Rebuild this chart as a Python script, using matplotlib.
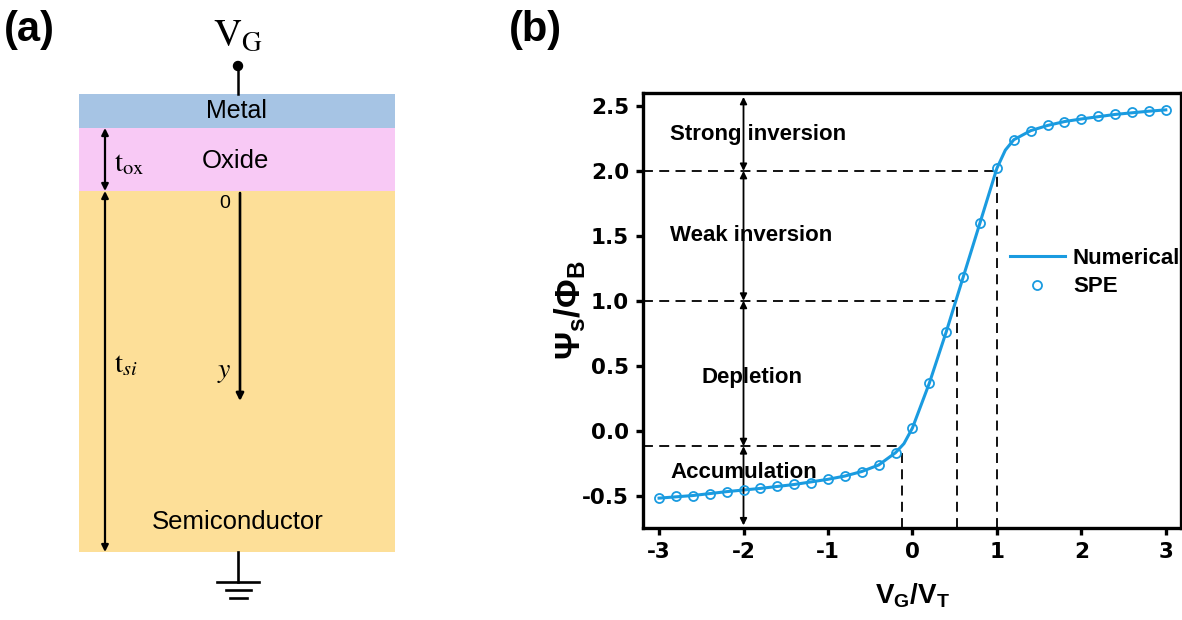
import numpy as np
import matplotlib
matplotlib.use("Agg")
import matplotlib.pyplot as plt
from matplotlib.patches import Rectangle, Circle
from matplotlib.lines import Line2D

plt.rcParams['font.family'] = ['Liberation Sans', 'DejaVu Sans']
plt.rcParams['mathtext.fontset'] = 'custom'
plt.rcParams['mathtext.rm'] = 'Liberation Sans:bold'
plt.rcParams['mathtext.bf'] = 'Liberation Sans:bold'
plt.rcParams['mathtext.it'] = 'Liberation Sans:bold:italic'

# surface potential vs gate voltage
vg_spe = [-3.0, -2.8, -2.6, -2.4, -2.2, -2.0, -1.8, -1.6, -1.4, -1.2, -1.0,
          -0.8, -0.6, -0.4, -0.2, 0.0, 0.2, 0.4, 0.6, 0.8, 1.0,
          1.2, 1.4, 1.6, 1.8, 2.0, 2.2, 2.4, 2.6, 2.8, 3.0]
psi_spe = [-0.52, -0.505, -0.50, -0.485, -0.47, -0.46, -0.445, -0.43, -0.415, -0.40, -0.375,
           -0.35, -0.315, -0.265, -0.17, 0.02, 0.365, 0.76, 1.18, 1.60, 2.02,
           2.24, 2.31, 2.35, 2.38, 2.40, 2.42, 2.435, 2.45, 2.46, 2.47]

vg_num = [-3.0, -2.6, -2.2, -1.8, -1.4, -1.0, -0.8, -0.6, -0.4, -0.2, -0.1, 0.0, 0.2, 0.4,
          0.6, 0.8, 1.0, 1.1, 1.2, 1.4, 1.6, 1.8, 2.0, 2.4, 2.8, 3.0]
psi_num = [-0.52, -0.50, -0.47, -0.445, -0.415, -0.375, -0.35, -0.315, -0.265, -0.17, -0.10, 0.02, 0.365, 0.76,
           1.18, 1.60, 2.02, 2.16, 2.24, 2.31, 2.35, 2.38, 2.40, 2.435, 2.46, 2.47]

# region boundaries (dashed guides) and the double arrows at x = -2
corner_x = [-0.12, 0.53, 1.0]
corner_y = [-0.12, 1.0, 2.0]
arrow_x = -2.0
arrow_levels = [2.57, 2.0, 1.0, -0.12, -0.73]
regions = ['Strong inversion', 'Weak inversion', 'Depletion', 'Accumulation']
region_pos = [(-2.87, 2.28), (-2.87, 1.50), (-1.9, 0.41), (-2.87, -0.32)]
region_ha = ['left', 'left', 'center', 'left']

blue = '#1a9be0'

fig = plt.figure(figsize=(11.82, 6.2), dpi=100)

# ---------------- (a) MOS structure ----------------
ax_a = fig.add_axes([0, 0, 0.5, 1])
ax_a.set_xlim(0, 591)
ax_a.set_ylim(620, 0)
ax_a.axis('off')

left, right = 79, 395
layers = [('Metal', 94, 128, '#a6c4e4'),
          ('Oxide', 128, 191, '#f8c9f5'),
          ('Semiconductor', 191, 552, '#fddf98')]
for name, top, bot, col in layers:
    ax_a.add_patch(Rectangle((left, top), right - left, bot - top, color=col, lw=0))

ax_a.text(236, 111, 'Metal', ha='center', va='center', fontsize=18)
ax_a.text(235, 161, 'Oxide', ha='center', va='center', fontsize=18.5)
ax_a.text(238, 522, 'Semiconductor', ha='center', va='center', fontsize=18.5)

# gate terminal
ax_a.plot([238, 238], [66, 94], color='k', lw=1.8)
ax_a.add_patch(Circle((238, 66), 4.5, color='k'))
ax_a.text(238, 36, r'$\mathrm{V_G}$', ha='center', va='center', fontsize=28,
          math_fontfamily='stix')

# thickness arrows
for y0, y1 in [(128, 191), (191, 552)]:
    ax_a.annotate('', xy=(105, y0), xytext=(105, y1),
                  arrowprops=dict(arrowstyle='<|-|>', color='k', lw=1.6,
                                  mutation_scale=10, shrinkA=0, shrinkB=0))
ax_a.text(114, 163, r'$\mathrm{t_{ox}}$', ha='left', va='center', fontsize=21,
          math_fontfamily='stix')
ax_a.text(114, 364, r'$\mathrm{t}_{si}$', ha='left', va='center', fontsize=21,
          math_fontfamily='stix')

# depth coordinate
ax_a.annotate('', xy=(240, 401), xytext=(240, 193),
              arrowprops=dict(arrowstyle='-|>', color='k', lw=1.9,
                              mutation_scale=11, shrinkA=0, shrinkB=0))
ax_a.text(225, 203, '0', ha='center', va='center', fontsize=14)
ax_a.text(224, 372, r'$y$', ha='center', va='center', fontsize=20,
          math_fontfamily='stix')

# ground
ax_a.plot([238, 238], [552, 582], color='k', lw=1.9)
for y, half in [(582, 21), (590, 12.5), (598, 8.5)]:
    ax_a.plot([238 - half, 238 + half], [y, y], color='k', lw=1.9)

fig.text(4 / 1182, 1 - 30 / 620, '(a)', fontsize=30, fontweight='bold', va='center')

# ---------------- (b) surface potential ----------------
ax = fig.add_axes([643 / 1182, 1 - 528 / 620, 538 / 1182, 435 / 620])
ax.plot(vg_num, psi_num, color=blue, lw=2.2, zorder=3)
ax.plot(vg_spe, psi_spe, 'o', mfc='none', mec=blue, ms=6.5, mew=1.3, zorder=4)

ax.set_xlim(-3.19, 3.18)
ax.set_ylim(-0.75, 2.6)

for cx, cy in zip(corner_x, corner_y):
    ax.plot([-3.19, cx], [cy, cy], color='k', lw=1.3, dashes=(5.5, 3.5), zorder=2)
    ax.plot([cx, cx], [-0.75, cy], color='k', lw=1.3, dashes=(5.5, 3.5), zorder=2)

for y0, y1 in zip(arrow_levels[:-1], arrow_levels[1:]):
    ax.annotate('', xy=(arrow_x, y0), xytext=(arrow_x, y1),
                arrowprops=dict(arrowstyle='<|-|>', color='k', lw=1.3,
                                mutation_scale=10, shrinkA=0, shrinkB=0))

for label, (tx, ty), ha in zip(regions, region_pos, region_ha):
    ax.text(tx, ty, label, ha=ha, va='center', fontsize=16, fontweight='bold', zorder=5)

ax.set_xticks([-3, -2, -1, 0, 1, 2, 3])
ax.set_yticks([-0.5, 0.0, 0.5, 1.0, 1.5, 2.0, 2.5])
ax.set_xticklabels(['-3', '-2', '-1', '0', '1', '2', '3'])
ax.set_yticklabels(['-0.5', '0.0', '0.5', '1.0', '1.5', '2.0', '2.5'])
ax.tick_params(direction='out', length=5, width=2.4, pad=5)
for lab in ax.get_xticklabels() + ax.get_yticklabels():
    lab.set_fontweight('bold')
    lab.set_fontfamily('DejaVu Sans')
    lab.set_fontsize(15.5)
for s in ax.spines.values():
    s.set_linewidth(2.4)

ax.set_xlabel(r'$\mathbf{V_G/V_T}$', fontsize=20, labelpad=14)
ax.set_ylabel(r'$\mathbf{\Psi_s/\Phi_B}$', fontsize=25, labelpad=-4)

handles = [Line2D([], [], color=blue, lw=2.2),
           Line2D([], [], ls='none', marker='o', mfc='none', mec=blue, ms=6.5, mew=1.3)]
ax.legend(handles, ['Numerical', 'SPE'], loc='upper left',
          bbox_to_anchor=(0.665, 0.665), frameon=False, handlelength=2.5,
          prop={'weight': 'bold', 'size': 16}, labelspacing=0.35,
          handletextpad=0.35, borderaxespad=0)

fig.text(509 / 1182, 1 - 30 / 620, '(b)', fontsize=30, fontweight='bold', va='center')

fig.savefig('out.png', dpi=100)
